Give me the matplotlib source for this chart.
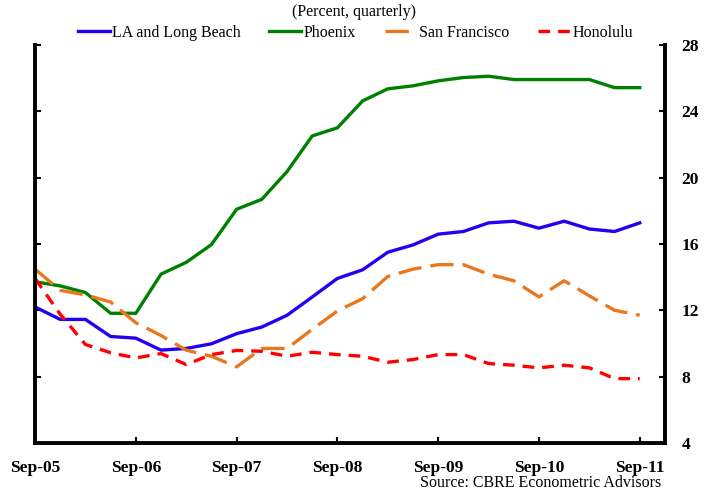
import numpy as np
import matplotlib
matplotlib.use("Agg")
import matplotlib.pyplot as plt

# quarterly, Sep-05 .. Sep-11
quarters = np.arange(25)
year_ticks = [0, 4, 8, 12, 16, 20, 24]
year_labels = ["Sep-05", "Sep-06", "Sep-07", "Sep-08", "Sep-09", "Sep-10", "Sep-11"]

la_long_beach = [12.2, 11.45, 11.45, 10.42, 10.32, 9.6, 9.7, 9.98, 10.59, 10.99,
                 11.7, 12.8, 13.92, 14.44, 15.5, 15.94, 16.59, 16.75, 17.27, 17.37,
                 16.95, 17.37, 16.9, 16.75, 17.27]
phoenix = [13.72, 13.47, 13.07, 11.82, 11.82, 14.18, 14.89, 15.96, 18.09, 18.69,
           20.36, 22.51, 23.0, 24.62, 25.35, 25.53, 25.83, 26.03, 26.11, 25.91,
           25.91, 25.91, 25.91, 25.42, 25.42]
san_francisco = [14.48, 13.2, 12.93, 12.5, 11.25, 10.48, 9.6, 9.23, 8.59, 9.7,
                 9.7, 10.85, 11.96, 12.7, 14.04, 14.48, 14.75, 14.75, 14.18, 13.78,
                 12.81, 13.78, 12.87, 12.0, 11.7]
honolulu = [13.92, 11.76, 9.94, 9.44, 9.13, 9.39, 8.73, 9.33, 9.58, 9.53,
            9.23, 9.47, 9.33, 9.23, 8.87, 9.03, 9.33, 9.33, 8.79, 8.69,
            8.53, 8.69, 8.53, 7.88, 7.88]

serif = ["Liberation Serif", "DejaVu Serif"]
plt.rcParams["font.family"] = serif

fig = plt.figure(figsize=(7.15, 4.93), dpi=100)
ax = fig.add_axes([0.049, 0.1014, 0.881, 0.8076])

ax.plot(quarters, la_long_beach, color="#2400f0", lw=2.4, label="LA and Long Beach")
ax.plot(quarters, phoenix, color="#008000", lw=2.4, label="Phoenix")
ax.plot(quarters, san_francisco, color="#e8771e", lw=2.4, dashes=(7, 2.7),
        label="San Francisco")
ax.plot(quarters, honolulu, color="#ff0000", lw=2.4, dashes=(3.5, 2.4),
        label="Honolulu")

ax.set_xlim(0, 25)
ax.set_ylim(4, 28)
ax.set_yticks(np.arange(4, 29, 4))
ax.set_xticks(year_ticks)
ax.set_xticklabels(year_labels)

for s in ax.spines.values():
    s.set_linewidth(2.8)
ax.spines["top"].set_visible(False)

ax.tick_params(axis="y", direction="in", left=True, right=True, labelleft=False,
               labelright=True, length=4, width=1.5, pad=12)
ax.tick_params(axis="x", direction="in", length=4, width=1.5, pad=12)
for lab in ax.get_xticklabels() + ax.get_yticklabels():
    lab.set_fontweight("bold")
    lab.set_fontsize(12.5)

fig.text(0.495, 0.975, "(Percent, quarterly)", ha="center", va="center", fontsize=11.5)
fig.legend(loc="center", bbox_to_anchor=(0.497, 0.934), ncol=4, frameon=False,
           fontsize=11.5, handlelength=2.0, handletextpad=0.15, columnspacing=1.8,
           borderaxespad=0)
fig.text(0.925, 0.02, "Source: CBRE Econometric Advisors", ha="right", va="center",
         fontsize=11.5)

fig.savefig("out.png", dpi=100)
